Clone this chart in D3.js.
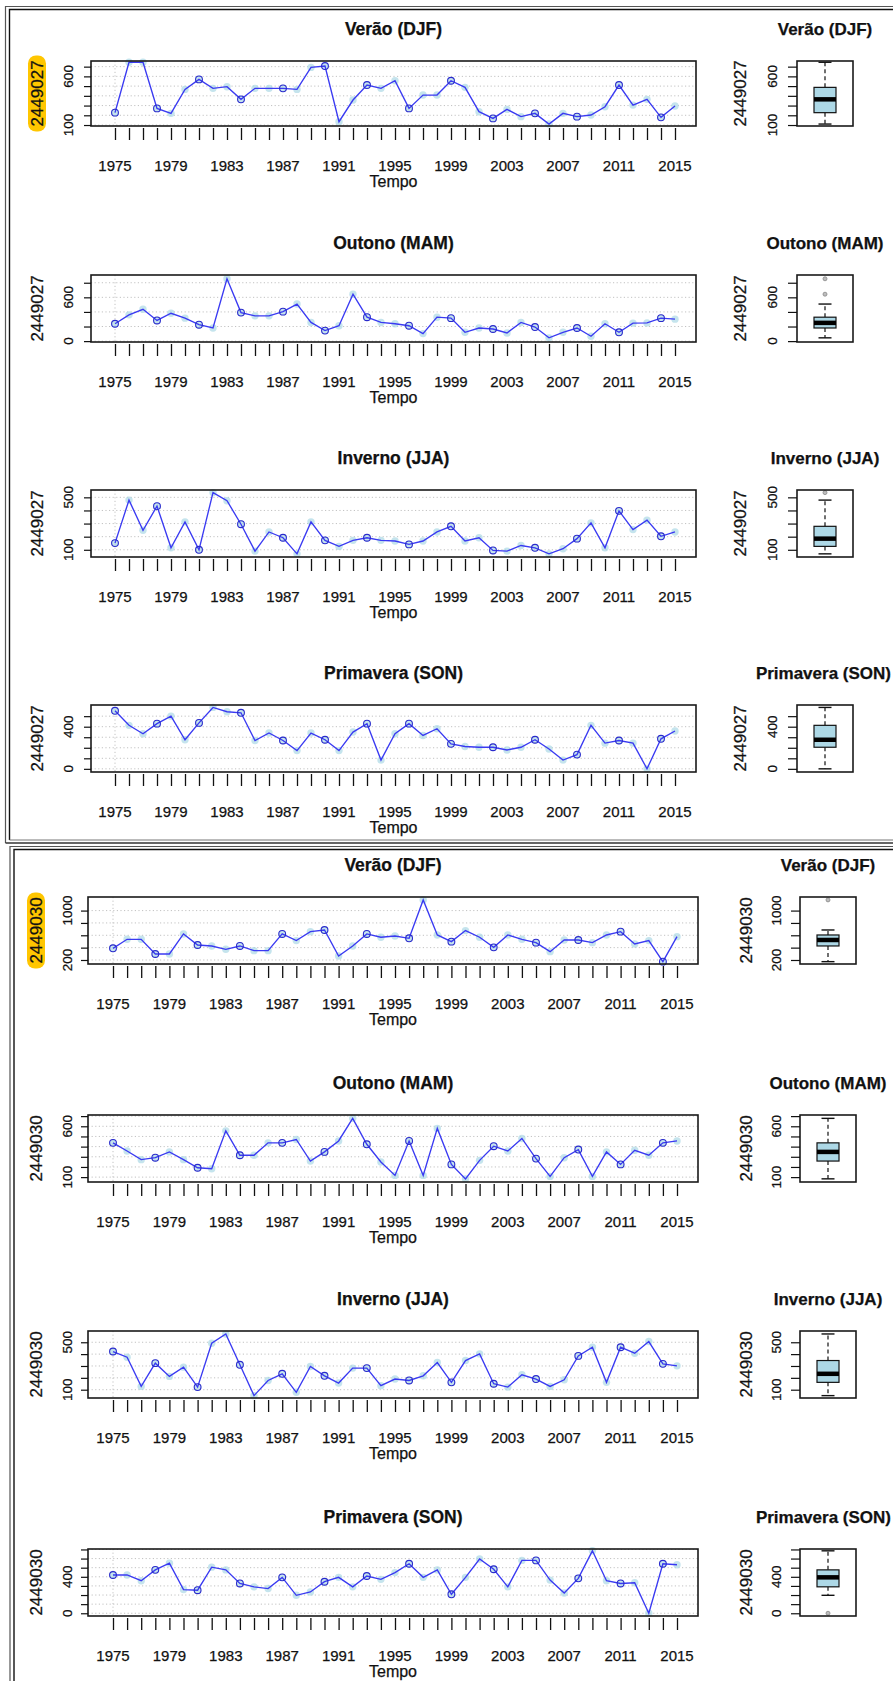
<!DOCTYPE html>
<html>
<head>
<meta charset="utf-8">
<script src="https://cdn.jsdelivr.net/npm/d3@7"></script>
<style>
  body { margin: 0; background: #fff; }
  svg { display: block; }
  text { font-family: "Liberation Sans", Arial, sans-serif; fill: #111; stroke: #111; stroke-width: 0.25px; }
</style>
</head>
<body>
<svg id="chart" width="893" height="1681"></svg>
<script>
// ---- data -------------------------------------------------------------
const years = d3.range(1975, 2016);
const yearLabels = [1975, 1979, 1983, 1987, 1991, 1995, 1999, 2003, 2007, 2011, 2015];
const gridYears = [1975];
const stations = ["2449027", "2449030"];
const seasons = ["Verão (DJF)", "Outono (MAM)", "Inverno (JJA)", "Primavera (SON)"];

// seasonal totals, station 2449027
const djf2449027 = [227,745,745,271,220,466,569,477,494,364,477,477,477,466,692,706,134,357,511,477,555,271,408,408,555,487,237,168,261,186,220,110,220,186,203,288,511,305,364,179,295];
const mam2449027 = [238,360,436,283,382,315,225,180,854,391,346,346,404,508,256,144,211,643,328,256,238,211,103,328,315,121,180,166,112,256,193,45,121,180,67,238,121,246,250,315,301];
const jja2449027 = [151,479,249,433,115,313,100,536,474,295,90,236,192,69,313,172,126,172,192,172,167,141,167,236,279,167,192,95,90,133,115,69,108,185,305,115,397,254,326,203,236];
const son2449027 = [551,413,333,429,500,276,436,583,542,532,269,340,269,173,340,276,173,349,429,83,333,429,317,381,237,212,205,205,179,205,276,189,83,135,413,244,269,244,0,285,359];

// seasonal totals, station 2449030
const djf2449030 = [389,535,535,297,297,622,443,427,373,427,351,351,622,514,659,686,265,427,622,568,589,551,1173,605,497,676,568,405,605,535,481,335,524,524,481,605,659,459,514,173,578];
const mam2449030 = [437,357,272,291,348,272,192,183,555,315,315,437,437,470,258,348,456,678,423,249,117,456,117,579,225,83,265,404,357,480,282,107,291,371,107,348,225,364,315,437,456];
const jja2449030 = [422,374,128,324,212,290,122,492,570,310,50,178,234,78,296,217,156,282,282,134,190,178,217,329,162,346,402,150,122,226,190,128,184,385,458,162,458,408,506,318,301];
const son2449030 = [420,420,357,476,550,260,253,506,476,327,290,271,394,197,234,346,394,290,409,372,446,543,394,476,208,394,595,483,290,580,580,364,223,383,685,357,327,335,0,543,532];

// y-axis ticks, labelled ticks and limits for each panel
const ticksDjf27 = [100,200,300,400,500,600,700],  labelsDjf27 = [100,600],  ylimDjf27 = [90,758];
const ticksMam27 = [0,200,400,600,800],            labelsMam27 = [0,600],    ylimMam27 = [-12,906];
const ticksJja27 = [100,200,300,400,500],          labelsJja27 = [100,500],  ylimJja27 = [45,556];
const ticksSon27 = [0,100,200,300,400,500],        labelsSon27 = [0,400],    ylimSon27 = [-30,606];
const ticksDjf30 = [200,400,600,800,1000],         labelsDjf30 = [200,1000], ylimDjf30 = [135,1220];
const ticksMam30 = [100,200,300,400,500,600,700],  labelsMam30 = [100,600],  ylimMam30 = [52,711];
const ticksJja30 = [100,200,300,400,500],          labelsJja30 = [100,500],  ylimJja30 = [30,595];
const ticksSon30 = [0,100,200,300,400,500,600,700],labelsSon30 = [0,400],    ylimSon30 = [-30,705];

// ---- layout -----------------------------------------------------------
const W = 893;
const groupLayout = [
  { left: 91, right: 696, x0: 115, x1: 675, ylabX: 37, tickLabX: 68, tickLen: 7,
    bpL: 797, bpR: 853, bpTickLabX: 772, bpYlabX: 740 },
  { left: 88, right: 698, x0: 113, x1: 677, ylabX: 36, tickLabX: 67, tickLen: 7,
    bpL: 800, bpR: 856, bpTickLabX: 776, bpYlabX: 746 }
];
const rows = [[61,126],[275,342],[490,557],[705,772],[897,964],[1115,1182],[1331,1398],[1549,1616]];

const panels = [
  { st: 0, se: 0, values: djf2449027, ticks: ticksDjf27, labels: labelsDjf27, ylim: ylimDjf27, mark: true },
  { st: 0, se: 1, values: mam2449027, ticks: ticksMam27, labels: labelsMam27, ylim: ylimMam27 },
  { st: 0, se: 2, values: jja2449027, ticks: ticksJja27, labels: labelsJja27, ylim: ylimJja27 },
  { st: 0, se: 3, values: son2449027, ticks: ticksSon27, labels: labelsSon27, ylim: ylimSon27 },
  { st: 1, se: 0, values: djf2449030, ticks: ticksDjf30, labels: labelsDjf30, ylim: ylimDjf30, mark: true },
  { st: 1, se: 1, values: mam2449030, ticks: ticksMam30, labels: labelsMam30, ylim: ylimMam30 },
  { st: 1, se: 2, values: jja2449030, ticks: ticksJja30, labels: labelsJja30, ylim: ylimJja30 },
  { st: 1, se: 3, values: son2449030, ticks: ticksSon30, labels: labelsSon30, ylim: ylimSon30 }
];

const svg = d3.select("#chart");

// window frames around each station block
function frame(x, y, bottom, color, w) {
  svg.append("path")
    .attr("d", `M900,${y}H${x}V${bottom}`)
    .attr("fill", "none").attr("stroke", color).attr("stroke-width", w);
}
frame(5.5, 6.5, 843, "#555", 1.2);
frame(9.5, 9.5, 840, "#111", 1.4);
svg.append("line").attr("x1", 5.5).attr("x2", 900).attr("y1", 843).attr("y2", 843).attr("stroke", "#333").attr("stroke-width", 1.4);
svg.append("line").attr("x1", 9.5).attr("x2", 900).attr("y1", 840).attr("y2", 840).attr("stroke", "#777").attr("stroke-width", 1);
frame(10, 846.5, 1690, "#555", 1.2);
frame(14, 849.5, 1690, "#111", 1.4);

// R style five-number summary and boxplot statistics
function fivenum(arr) {
  const x = arr.slice().sort(d3.ascending), n = x.length;
  const n4 = Math.floor((n + 3) / 2) / 2;
  const d = [1, n4, (n + 1) / 2, n + 1 - n4, n];
  return d.map(v => 0.5 * (x[Math.floor(v) - 1] + x[Math.ceil(v) - 1]));
}
function boxStats(arr) {
  const s = fivenum(arr), iqr = s[3] - s[1];
  const lo = s[1] - 1.5 * iqr, hi = s[3] + 1.5 * iqr;
  const inside = arr.filter(v => v >= lo && v <= hi);
  return { q1: s[1], med: s[2], q3: s[3], wlo: d3.min(inside), whi: d3.max(inside),
           out: arr.filter(v => v < lo || v > hi) };
}

function yAxisLabels(g, y, labels, x) {
  g.selectAll(null).data(labels).join("text")
    .attr("transform", d => `translate(${x + 4.8},${y(d)}) rotate(-90)`)
    .attr("text-anchor", "middle")
    .style("font-size", "13.5px")
    .text(d => d);
}
function yTitle(g, x, yc, label, mark) {
  if (mark) {
    g.append("rect").attr("x", x - 9).attr("y", yc - 38).attr("width", 18).attr("height", 76)
      .attr("rx", 8).attr("fill", "#ffc600");
  }
  g.append("text")
    .attr("transform", `translate(${x + 6},${yc}) rotate(-90)`)
    .attr("text-anchor", "middle")
    .style("font-size", "17px")
    .text(label);
}
function dottedGrid(g, y, ticks, x1, x2) {
  g.selectAll(null).data(ticks).join("line")
    .attr("x1", x1).attr("x2", x2).attr("y1", d => y(d)).attr("y2", d => y(d))
    .attr("stroke", "#c2c2c2").attr("stroke-width", 1).attr("stroke-dasharray", "1.2,2.4");
}

panels.forEach((p, i) => {
  const L = groupLayout[p.st];
  const [top, bottom] = rows[i];
  const g = svg.append("g");
  const x = d3.scaleLinear().domain([1975, 2015]).range([L.x0, L.x1]);
  const y = d3.scaleLinear().domain(p.ylim).range([bottom, top]);
  const cx = (L.left + L.right) / 2;
  const station = stations[p.st];

  // title
  g.append("text").attr("x", cx).attr("y", top - 26).attr("text-anchor", "middle")
    .style("font-size", "17.5px").style("font-weight", "bold").text(seasons[p.se]);

  // grid
  dottedGrid(g, y, p.ticks, L.left, L.right);
  g.selectAll(null).data(gridYears).join("line")
    .attr("x1", d => x(d)).attr("x2", d => x(d)).attr("y1", top).attr("y2", bottom)
    .attr("stroke", "#c2c2c2").attr("stroke-width", 1).attr("stroke-dasharray", "1.2,2.4");

  // series: pale markers, line, open circles every third year
  const pts = years.map((yr, k) => ({ yr, v: p.values[k], k }));
  g.selectAll(null).data(pts).join("circle")
    .attr("cx", d => x(d.yr)).attr("cy", d => y(d.v)).attr("r", 3.7)
    .attr("fill", "#add8e6").attr("fill-opacity", 0.7);
  g.append("path").datum(pts)
    .attr("d", d3.line().x(d => x(d.yr)).y(d => y(d.v)))
    .attr("fill", "none").attr("stroke", "#3a3af2").attr("stroke-width", 1.35);
  g.selectAll(null).data(pts.filter(d => d.k % 3 === 0)).join("circle")
    .attr("cx", d => x(d.yr)).attr("cy", d => y(d.v)).attr("r", 3.4)
    .attr("fill", "none").attr("stroke", "#2a2acc").attr("stroke-width", 1.1);

  // plot box
  g.append("rect").attr("x", L.left).attr("y", top).attr("width", L.right - L.left).attr("height", bottom - top)
    .attr("fill", "none").attr("stroke", "#1a1a1a").attr("stroke-width", 1.6);

  // y axis
  const gy = g.append("g").attr("transform", `translate(${L.left},0)`)
    .call(d3.axisLeft(y).tickValues(p.ticks).tickSize(L.tickLen).tickFormat(""));
  gy.select(".domain").remove();
  gy.selectAll("line").attr("stroke", "#111").attr("stroke-width", 1.2);
  yAxisLabels(g, y, p.labels, L.tickLabX);
  yTitle(g, L.ylabX, (top + bottom) / 2, station, p.mark);

  // x axis
  const gx = g.append("g").attr("transform", `translate(0,${bottom + 2})`)
    .call(d3.axisBottom(x).tickValues(years).tickSize(12).tickFormat(""));
  gx.select(".domain").remove();
  gx.selectAll("line").attr("stroke", "#111").attr("stroke-width", 1.3);
  g.selectAll(null).data(yearLabels).join("text")
    .attr("x", d => x(d)).attr("y", bottom + 45).attr("text-anchor", "middle")
    .style("font-size", "15px").text(d => d);
  g.append("text").attr("x", cx).attr("y", bottom + 61).attr("text-anchor", "middle")
    .style("font-size", "16px").text("Tempo");

  // ---- boxplot of the same season ----
  const bx = (L.bpL + L.bpR) / 2;
  const s = boxStats(p.values);
  const bt = g.append("text").attr("x", bx).attr("y", top - 26).attr("text-anchor", "middle")
    .style("font-size", "17px").style("font-weight", "bold").text(seasons[p.se]);
  // keep the title inside the page width
  const half = bt.node().getComputedTextLength() / 2;
  if (bx + half > W - 2) bt.attr("x", W - 2 - half);
  // whiskers
  [[s.q3, s.whi], [s.q1, s.wlo]].forEach(([a, b]) => {
    g.append("line").attr("x1", bx).attr("x2", bx).attr("y1", y(a)).attr("y2", y(b))
      .attr("stroke", "#111").attr("stroke-width", 1.2).attr("stroke-dasharray", "4,3");
    g.append("line").attr("x1", bx - 6.5).attr("x2", bx + 6.5).attr("y1", y(b)).attr("y2", y(b))
      .attr("stroke", "#111").attr("stroke-width", 1.4);
  });
  g.append("rect").attr("x", bx - 11).attr("y", y(s.q3)).attr("width", 22).attr("height", y(s.q1) - y(s.q3))
    .attr("fill", "#add8e6").attr("stroke", "#111").attr("stroke-width", 1.2);
  g.append("line").attr("x1", bx - 11).attr("x2", bx + 11).attr("y1", y(s.med)).attr("y2", y(s.med))
    .attr("stroke", "#000").attr("stroke-width", 4.5);
  g.selectAll(null).data(s.out).join("circle")
    .attr("cx", bx).attr("cy", d => y(d)).attr("r", 2)
    .attr("fill", "#bdbdbd").attr("stroke", "#888").attr("stroke-width", 0.8);
  g.append("rect").attr("x", L.bpL).attr("y", top).attr("width", L.bpR - L.bpL).attr("height", bottom - top)
    .attr("fill", "none").attr("stroke", "#1a1a1a").attr("stroke-width", 1.6);
  const gby = g.append("g").attr("transform", `translate(${L.bpL},0)`)
    .call(d3.axisLeft(y).tickValues(p.ticks).tickSize(9).tickFormat(""));
  gby.select(".domain").remove();
  gby.selectAll("line").attr("stroke", "#111").attr("stroke-width", 1.2);
  yAxisLabels(g, y, p.labels, L.bpTickLabX);
  yTitle(g, L.bpYlabX, (top + bottom) / 2, station, false);
});
</script>
</body>
</html>
